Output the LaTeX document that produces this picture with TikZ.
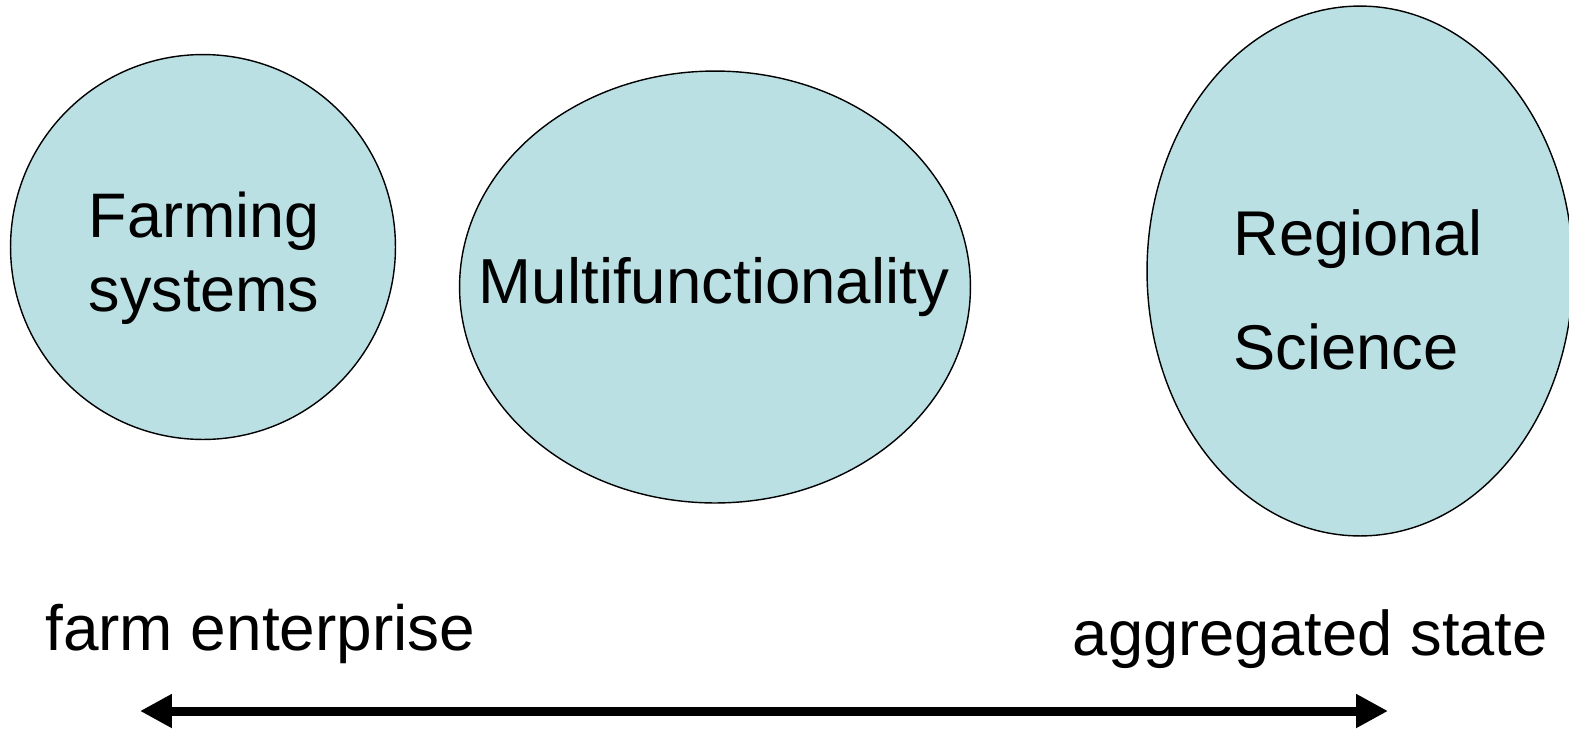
\documentclass[tikz,border=0pt]{standalone}
\usepackage{fontspec}
\setmainfont{Liberation Sans}
\usetikzlibrary{shapes.geometric,arrows.meta}

\definecolor{topicfill}{RGB}{187,224,228}

\tikzset{
  topic/.style={ellipse, draw=black, line width=0.8pt, fill=topicfill, inner sep=0pt},
  label/.style={font=\fontsize{35.8}{41.4}\selectfont, inner sep=0pt}
}

\begin{document}
\begin{tikzpicture}[x=0.02cm, y=-0.02cm]

\useasboundingbox ( 0, 0 ) rectangle ( 1569, 728 );

% Topics
\node [topic, minimum width=7.70cm, minimum height=7.70cm] (farming) at ( 203, 247 ) {};
\node [topic, minimum width=10.22cm, minimum height=8.64cm] (multi) at ( 715, 287 ) {};
\node [topic, minimum width=8.52cm, minimum height=10.60cm] (regional) at ( 1360, 271 ) {};

% Topic names
\node [label, align=center, font=\fontsize{35.8}{42.2}\selectfont] (farmingtext) at ( 204, 258 ) {Farming\\systems};
\node [label, font=\fontsize{36.2}{41.4}\selectfont] (multitext) at ( 714, 287 ) {Multifunctionality};
\node [label, align=left, anchor=west, font=\fontsize{36}{65.2}\selectfont] (regionaltext) at ( 1233, 290 ) {Regional\\Science};

% Scale ends
\node [label, anchor=base west, font=\fontsize{36.4}{41.4}\selectfont] (farm) at ( 45, 650 ) {farm enterprise};
\node [label, anchor=base east, font=\fontsize{36}{41.4}\selectfont] (state) at ( 1548, 655 ) {aggregated state};

% Scale arrow
\coordinate (left) at ( 140, 711 );
\coordinate (right) at ( 1388, 711 );
\draw [{Triangle[length=0.64cm, width=0.64cm]}-{Triangle[length=0.64cm, width=0.64cm]}, line width=0.18cm] (left) -- (right);

\end{tikzpicture}
\end{document}
